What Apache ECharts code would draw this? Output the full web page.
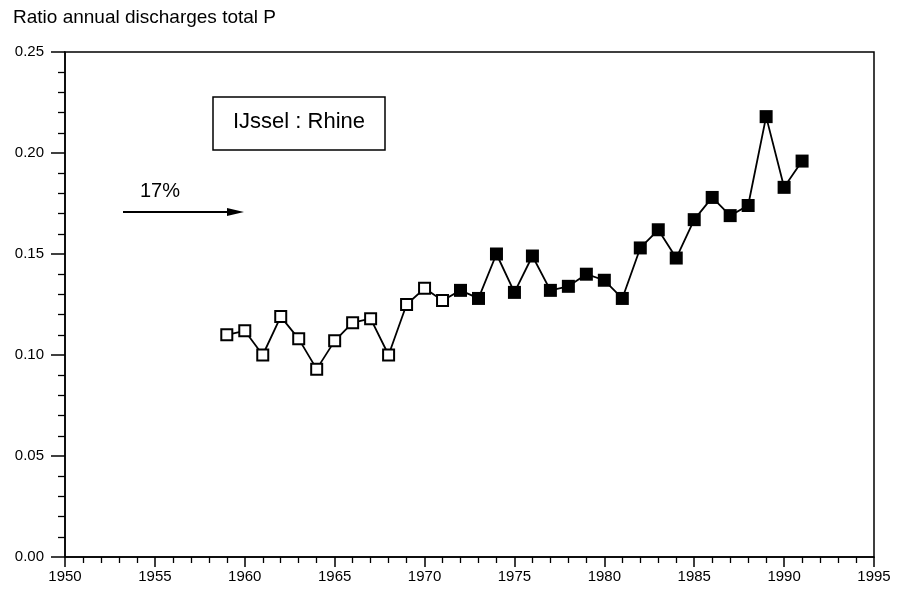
<!DOCTYPE html>
<html>
<head>
<meta charset="utf-8">
<script src="https://cdn.jsdelivr.net/npm/echarts@6/dist/echarts.min.js"></script>
<style>
  html, body { margin: 0; padding: 0; background: #fff; }
  #chart { width: 897px; height: 591px; }
</style>
</head>
<body>
<div id="chart"></div>
<script>
// years 1959-1971: open squares, 1972-1991: filled squares
const years = [1959, 1960, 1961, 1962, 1963, 1964, 1965, 1966, 1967, 1968, 1969, 1970, 1971,
  1972, 1973, 1974, 1975, 1976, 1977, 1978, 1979, 1980, 1981, 1982, 1983, 1984, 1985,
  1986, 1987, 1988, 1989, 1990, 1991]
const ratio = [0.110, 0.112, 0.100, 0.119, 0.108, 0.093, 0.107, 0.116, 0.118, 0.100, 0.125, 0.133, 0.127,
  0.132, 0.128, 0.150, 0.131, 0.149, 0.132, 0.134, 0.140, 0.137, 0.128, 0.153, 0.162, 0.148, 0.167,
  0.178, 0.169, 0.174, 0.218, 0.183, 0.196]
const firstFilledYear = 1972

const font = 'Liberation Sans, Arial, Helvetica, sans-serif'
const chart = echarts.init(document.getElementById('chart'))

const lineData = years.map((y, i) => [y, ratio[i]])
const openData = lineData.filter(d => d[0] < firstFilledYear)
const filledData = lineData.filter(d => d[0] >= firstFilledYear)

chart.setOption({
  animation: false,
  grid: {
    left: 65, right: 23, top: 52, bottom: 34,
    show: true, borderColor: '#000', borderWidth: 1.5, backgroundColor: 'transparent'
  },
  xAxis: {
    type: 'value',
    min: 1950, max: 1995, interval: 5,
    axisLine: { lineStyle: { color: '#000', width: 1.5 } },
    axisTick: { length: 10, lineStyle: { color: '#000', width: 1.5 } },
    minorTick: { show: true, splitNumber: 5, length: 6, lineStyle: { color: '#000', width: 1.3 } },
    axisLabel: { color: '#000', fontSize: 15, fontFamily: font, margin: 12,
      formatter: v => String(v) },
    splitLine: { show: false }
  },
  yAxis: {
    type: 'value',
    min: 0, max: 0.25, interval: 0.05,
    axisLine: { lineStyle: { color: '#000', width: 1.5 } },
    axisTick: { length: 14, lineStyle: { color: '#000', width: 1.5 } },
    minorTick: { show: true, splitNumber: 5, length: 7, lineStyle: { color: '#000', width: 1.3 } },
    axisLabel: { color: '#000', fontSize: 15, fontFamily: font, margin: 21,
      formatter: v => v.toFixed(2) },
    splitLine: { show: false }
  },
  series: [
    {
      type: 'line',
      data: lineData,
      symbol: 'none',
      lineStyle: { color: '#000', width: 1.8 },
      z: 1
    },
    {
      type: 'scatter',
      data: openData,
      symbol: 'rect',
      symbolSize: 11,
      itemStyle: { color: '#fff', borderColor: '#000', borderWidth: 2, opacity: 1 },
      z: 2
    },
    {
      type: 'scatter',
      data: filledData,
      symbol: 'rect',
      symbolSize: 13,
      itemStyle: { color: '#000', opacity: 1 },
      z: 2
    }
  ],
  graphic: [
    {
      type: 'text', left: 13, top: 8,
      style: { text: 'Ratio annual discharges total P', font: '19px ' + font, fill: '#000' }
    },
    {
      type: 'rect', shape: { x: 213, y: 97, width: 172, height: 53 },
      style: { fill: '#fff', stroke: '#000', lineWidth: 1.5 }
    },
    {
      type: 'text', x: 299, y: 122,
      style: { text: 'IJssel : Rhine', font: '22px ' + font, fill: '#000', align: 'center', verticalAlign: 'middle' }
    },
    {
      type: 'text', x: 160, y: 191,
      style: { text: '17%', font: '20px ' + font, fill: '#000', align: 'center', verticalAlign: 'middle' }
    },
    {
      type: 'line', shape: { x1: 123, y1: 212, x2: 232, y2: 212 },
      style: { stroke: '#000', lineWidth: 2 }
    },
    {
      type: 'polygon', shape: { points: [[244, 212], [227, 208], [227, 216]] },
      style: { fill: '#000' }
    }
  ]
})
</script>
</body>
</html>
